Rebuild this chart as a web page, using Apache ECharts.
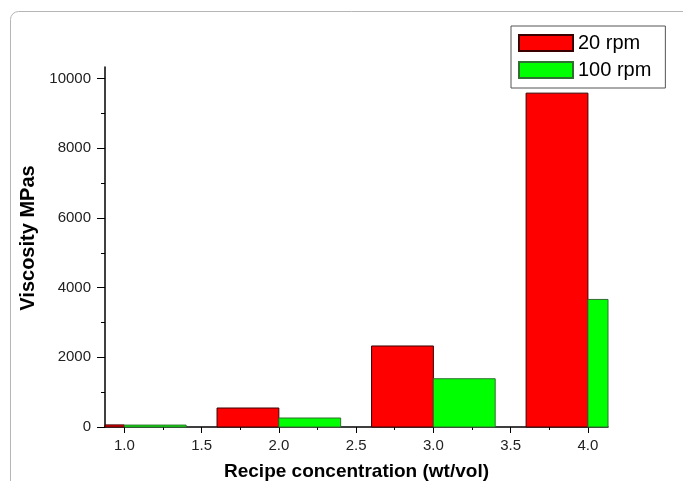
<!DOCTYPE html>
<html>
<head>
<meta charset="utf-8">
<script src="https://cdn.jsdelivr.net/npm/echarts@6/dist/echarts.min.js"></script>
<style>html,body{margin:0;padding:0;background:#fff;}#c{width:683px;height:481px;}</style>
</head>
<body>
<div id="c"></div>
<script>
// ---- data ----
const concentrations = [1.0, 2.0, 3.0, 4.0];
const viscosity20rpm = [60, 545, 2325, 9580];
const viscosity100rpm = [55, 258, 1385, 3660];
const seriesNames = ['20 rpm', '100 rpm'];
const xMajorTicks = [1.0, 1.5, 2.0, 2.5, 3.0, 3.5, 4.0];
const xMinorTicks = [1.25, 1.75, 2.25, 2.75, 3.25, 3.75];
const yMajorTicks = [0, 2000, 4000, 6000, 8000, 10000];
const yMinorTicks = [1000, 3000, 5000, 7000, 9000];

const FONT = 'Arial, "Liberation Sans", sans-serif';
const BAR_W = 0.4;

function makeRender(offset) {
  return function (params, api) {
    const x = api.value(0), v = api.value(1);
    const p0 = api.coord([x + offset, v]);
    const p1 = api.coord([x + offset + BAR_W, 0]);
    const cs = params.coordSys;
    const shape = echarts.graphic.clipRectByRect(
      { x: p0[0], y: p0[1], width: p1[0] - p0[0], height: p1[1] - p0[1] },
      { x: cs.x, y: cs.y, width: cs.width, height: cs.height }
    );
    return shape && { type: 'rect', shape: shape, style: api.style() };
  };
}

const chart = echarts.init(document.getElementById('c'), null, { renderer: 'canvas' });
const axisLabelStyle = { fontSize: 15, color: '#222', fontFamily: FONT };
chart.setOption({
  animation: false,
  backgroundColor: '#fff',
  graphic: [{
    type: 'rect', silent: true, z: -10,
    shape: { x: 10.5, y: 11.5, width: 800, height: 600, r: 8 },
    style: { fill: 'none', stroke: '#b5b5b5', lineWidth: 1 }
  }],
  grid: { left: 105, top: 67, right: 75, bottom: 54, containLabel: false, outerBoundsMode: 'none' },
  legend: {
    left: 511, top: 26, orient: 'vertical',
    padding: [7, 14, 8, 7],
    itemWidth: 54, itemHeight: 16, itemGap: 7,
    borderColor: '#555', borderWidth: 1,
    icon: 'rect',
    textStyle: { fontSize: 20, lineHeight: 16, color: '#000', fontFamily: FONT },
    data: seriesNames
  },
  xAxis: [{
    type: 'value', min: 0.875, max: 4.13,
    name: 'Recipe concentration (wt/vol)', nameLocation: 'middle', nameGap: 35,
    nameTextStyle: { fontSize: 19, fontWeight: 'bold', color: '#000', fontFamily: FONT },
    axisLine: { show: true, lineStyle: { color: '#000', width: 1.5 } },
    axisTick: { show: true, inside: false, length: 6, customValues: xMajorTicks, lineStyle: { color: '#000' } },
    axisLabel: { ...axisLabelStyle, margin: 11, customValues: xMajorTicks, formatter: v => v.toFixed(1) },
    splitLine: { show: false }
  }, {
    type: 'value', min: 0.875, max: 4.13, position: 'bottom',
    axisLine: { show: false },
    axisTick: { show: true, inside: false, length: 3, customValues: xMinorTicks, lineStyle: { color: '#000' } },
    axisLabel: { show: false },
    splitLine: { show: false }
  }],
  yAxis: [{
    type: 'value', min: 0, max: 10330,
    name: 'Viscosity MPas', nameLocation: 'middle', nameGap: 67, nameRotate: 90,
    nameTextStyle: { fontSize: 20, fontWeight: 'bold', color: '#000', fontFamily: FONT, padding: [0, 0, 0, 18] },
    axisLine: { show: true, lineStyle: { color: '#000', width: 1.5 } },
    axisTick: { show: true, inside: false, length: 8, customValues: yMajorTicks, lineStyle: { color: '#000' } },
    axisLabel: { ...axisLabelStyle, margin: 14, customValues: yMajorTicks, formatter: v => String(v) },
    splitLine: { show: false }
  }, {
    type: 'value', min: 0, max: 10330, position: 'left',
    axisLine: { show: false },
    axisTick: { show: true, inside: false, length: 4, customValues: yMinorTicks, lineStyle: { color: '#000' } },
    axisLabel: { show: false },
    splitLine: { show: false }
  }],
  series: [{
    name: seriesNames[0], type: 'custom', xAxisIndex: 0, yAxisIndex: 0,
    renderItem: makeRender(-BAR_W),
    itemStyle: { color: '#ff0000', borderColor: '#3a0000', borderWidth: 1 },
    encode: { x: 0, y: 1 },
    data: concentrations.map((c, i) => [c, viscosity20rpm[i]])
  }, {
    name: seriesNames[1], type: 'custom', xAxisIndex: 0, yAxisIndex: 0,
    renderItem: makeRender(0),
    itemStyle: { color: '#00ff00', borderColor: '#2f6f2f', borderWidth: 1 },
    encode: { x: 0, y: 1 },
    data: concentrations.map((c, i) => [c, viscosity100rpm[i]])
  }]
});
</script>
</body>
</html>
